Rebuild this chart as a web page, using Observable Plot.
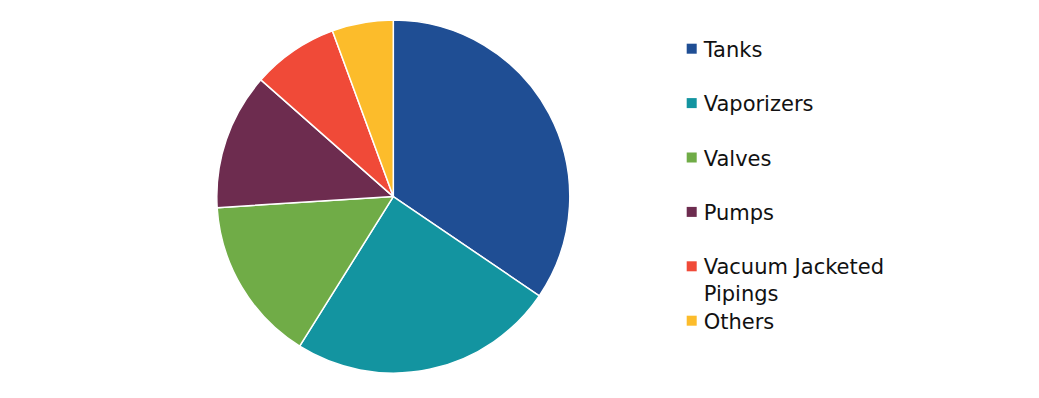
<!DOCTYPE html>
<html><head><meta charset="utf-8">
<script src="https://cdn.jsdelivr.net/npm/d3@7"></script>
<script src="https://cdn.jsdelivr.net/npm/@observablehq/plot@0.6"></script>
<style>body{margin:0;background:#fff}</style>
</head><body><div id="chart"></div>
<script>
const categories = ["Tanks", "Vaporizers", "Valves", "Pumps", "Vacuum Jacketed Pipings", "Others"];
const legendLabels = ["Tanks", "Vaporizers", "Valves", "Pumps", "Vacuum Jacketed\nPipings", "Others"];
const shares = [34.5, 24.4, 15.1, 12.5, 7.9, 5.6];
const colors = ["#1F4E94", "#1394A0", "#70AC47", "#6D2C4F", "#F04A38", "#FCBC2B"];

const W = 1039, H = 398;
const cx = 393.3, cy = 196.6, R = 176.5;
const legX = 686.7, legY0 = 48.7, legStep = 54.4, sq = 10;

const data = categories.map((c, i) => ({category: c, label: legendLabels[i], share: shares[i], i}));

function pieMark(index, scales, values, dims, context) {
  const arcs = d3.pie().sort(null).value(d => d.share)(data);
  const r = scales.x(cx + R) - scales.x(cx);
  const arc = d3.arc().innerRadius(0).outerRadius(r);
  const g = d3.create("svg:g")
    .attr("transform", `translate(${scales.x(cx)},${scales.y(cy)})`);
  g.selectAll("path").data(arcs).join("path")
    .attr("d", arc)
    .attr("fill", d => scales.color(d.data.category))
    .attr("stroke", "#fff")
    .attr("stroke-width", 1.5)
    .attr("stroke-linejoin", "round");
  return g.node();
}

const chart = Plot.plot({
  width: W, height: H, margin: 0,
  x: {domain: [0, W], axis: null},
  y: {domain: [0, H], reverse: true, axis: null},
  color: {domain: categories, range: colors},
  style: {fontFamily: "DejaVu Sans", background: "white"},
  marks: [
    pieMark,
    Plot.rect(data, {
      x1: d => legX, x2: d => legX + sq,
      y1: d => legY0 + d.i * legStep - sq / 2,
      y2: d => legY0 + d.i * legStep + sq / 2,
      fill: "category"
    }),
    Plot.text(data, {
      x: d => legX + 16.5,
      y: d => legY0 + d.i * legStep - 11.3,
      text: "label",
      textAnchor: "start",
      lineAnchor: "top",
      lineHeight: 1.27,
      fontSize: 21,
      fill: "#111"
    })
  ]
});
document.getElementById("chart").append(chart);
</script>
</body></html>
